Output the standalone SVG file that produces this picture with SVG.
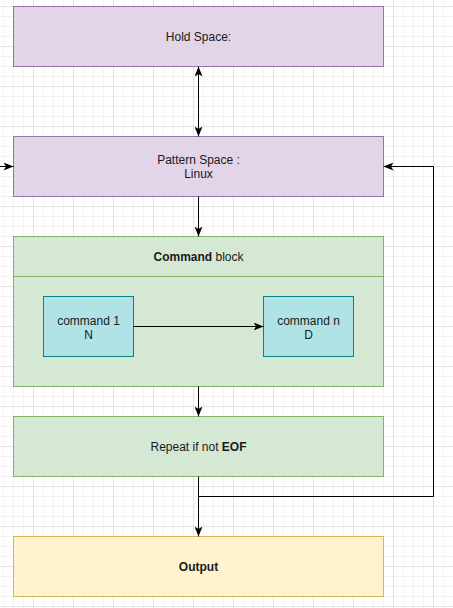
<svg xmlns="http://www.w3.org/2000/svg" width="453" height="608" viewBox="0 0 453 608">
  <defs>
    <pattern id="grid" patternUnits="userSpaceOnUse" x="33" y="6" width="40" height="40">
      <path d="M10.5 0V40M20.5 0V40M30.5 0V40M0 10.5H40M0 20.5H40M0 30.5H40" stroke="#f3f3f3" stroke-width="1" fill="none"/>
      <path d="M0.5 0V40M0 0.5H40" stroke="#e2e2e2" stroke-width="1" fill="none"/>
    </pattern>
    <marker id="arr" viewBox="0 0 10 8" refX="10" refY="4" markerWidth="10" markerHeight="8" markerUnits="userSpaceOnUse" orient="auto-start-reverse">
      <path d="M0 0 L10 4 L0 8 L2.5 4 Z" fill="#000"/>
    </marker>
    <style>
      .lbl { font-family: "Liberation Sans", Arial, Helvetica, sans-serif; font-size: 12px; fill: #1a1a1a; text-anchor: middle; }
      .b { font-weight: bold; }
      .purple { fill: #e1d5e7; stroke: #9673a6; stroke-width: 1; }
      .green { fill: #d5e8d4; stroke: #82b366; stroke-width: 1; }
      .cyan { fill: #b0e3e6; stroke: #0e8088; stroke-width: 1; }
      .yellow { fill: #fff2cc; stroke: #d6b656; stroke-width: 1; }
      .edge { fill: none; stroke: #000; stroke-width: 1; }
    </style>
  </defs>
  <rect x="0" y="0" width="453" height="608" fill="#ffffff"/>
  <rect x="0" y="0" width="453" height="608" fill="url(#grid)"/>

  <g id="hold-space">
    <rect class="purple" x="13.5" y="6.5" width="370" height="60"/>
    <text class="lbl" x="198.5" y="40.5">Hold Space:</text>
  </g>

  <g id="pattern-space">
    <rect class="purple" x="13.5" y="136.5" width="370" height="60"/>
    <text class="lbl" x="198.5" y="163.5">Pattern Space :</text>
    <text class="lbl" x="198.5" y="177.5">Linux</text>
  </g>

  <g id="command-block">
    <rect class="green" x="13.5" y="236.5" width="370" height="150"/>
    <line x1="13.5" y1="276.5" x2="383.5" y2="276.5" stroke="#82b366" stroke-width="1"/>
    <text class="lbl" x="198.5" y="260.5"><tspan class="b">Command</tspan> block</text>
  </g>

  <g id="command-1">
    <rect class="cyan" x="43.5" y="296.5" width="90" height="60"/>
    <text class="lbl" x="88.5" y="324.5">command 1</text>
    <text class="lbl" x="88.5" y="338.5">N</text>
  </g>

  <g id="command-n">
    <rect class="cyan" x="263.5" y="296.5" width="90" height="60"/>
    <text class="lbl" x="308.5" y="324.5">command n</text>
    <text class="lbl" x="308.5" y="338.5">D</text>
  </g>

  <g id="repeat">
    <rect class="green" x="13.5" y="416.5" width="370" height="60"/>
    <text class="lbl" x="198.5" y="450.5">Repeat if not <tspan class="b">EOF</tspan></text>
  </g>

  <g id="output">
    <rect class="yellow" x="13.5" y="536.5" width="370" height="60"/>
    <text class="lbl b" x="198.5" y="570.5">Output</text>
  </g>

  <g id="connectors">
    <path class="edge" d="M198.5 66.5 V136.5" marker-start="url(#arr)" marker-end="url(#arr)"/>
    <path class="edge" d="M0 166.5 H13.5" marker-end="url(#arr)"/>
    <path class="edge" d="M198.5 196.5 V236.5" marker-end="url(#arr)"/>
    <path class="edge" d="M133.5 326.5 H263.5" marker-end="url(#arr)"/>
    <path class="edge" d="M198.5 386.5 V416.5" marker-end="url(#arr)"/>
    <path class="edge" d="M198.5 476.5 V536.5" marker-end="url(#arr)"/>
    <path class="edge" d="M198.5 496.5 H433.5 V166.5 H383.5" marker-end="url(#arr)"/>
  </g>
</svg>
